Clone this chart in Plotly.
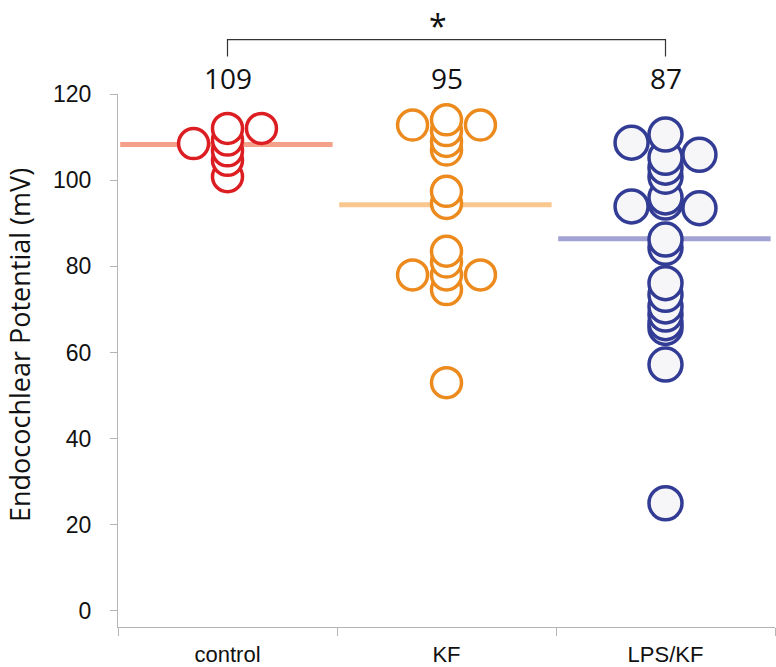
import plotly.graph_objects as go

# ---------------- data ----------------
groups = ["control", "KF", "LPS/KF"]

control_ep = [112.0, 112.0, 108.5, 109.3, 106.8, 104.6, 100.8]
control_side = [0, 1, -1, 0, 0, 0, 0]

kf_ep = [114.0, 112.8, 112.8, 111.5, 109.0, 107.0, 97.4, 94.6, 83.5, 81.0, 78.0, 78.0, 78.0, 74.6, 53.0]
kf_side = [0, -1, 1, 0, 0, 0, 0, 0, 0, 0, -1, 1, 0, 0, 0]

lps_ep = [110.6, 108.7, 105.9, 105.2, 102.9, 100.8, 96.0, 94.8, 93.9, 93.5, 86.2, 84.3,
          76.1, 73.4, 70.7, 68.8, 66.8, 65.7, 57.2, 25.0]
lps_side = [0, -1, 1, 0, 0, 0, 0, 0, -1, 1, 0, 0, 0, 0, 0, 0, 0, 0, 0, 0]

group_means = [108.3, 94.3, 86.4]
mean_labels = ["109", "95", "87"]
significance = "*"
y_title = "Endocochlear Potential (mV)"

y_ticks = [0, 20, 40, 60, 80, 100, 120]

# ---------------- style ----------------
marker_colors = ["#dc1e22", "#ec8a1e", "#323c95"]
fill_colors = ["white", "white", "#f6f6f8"]
line_colors = ["#f5a088", "#fac88e", "#a2a2d5"]
marker_sizes = [30, 30, 33]
side_step = 0.155
Y_MIN, Y_MAX = -3.72, 120
AXIS_COLOR = "#b5b5b5"
LABEL_FONT = "Open Sans"

fig = go.Figure()

# mean lines (behind markers)
for i, m in enumerate(group_means):
    fig.add_trace(go.Scatter(
        x=[i - 0.49, i + 0.48], y=[m, m], mode="lines",
        line=dict(color=line_colors[i], width=5),
        hoverinfo="skip", showlegend=False))

# points
for i, (vals, sides) in enumerate([(control_ep, control_side),
                                   (kf_ep, kf_side),
                                   (lps_ep, lps_side)]):
    pts = sorted(zip(vals, sides), key=lambda p: p[0])
    fig.add_trace(go.Scatter(
        x=[i + s * side_step for _, s in pts],
        y=[v for v, _ in pts],
        mode="markers",
        marker=dict(size=marker_sizes[i], color=fill_colors[i],
                    line=dict(color=marker_colors[i], width=3.5)),
        cliponaxis=False, showlegend=False, name=groups[i]))


def px(xv):
    return (xv + 0.5) / 3.0


def py(yv):
    return (yv - Y_MIN) / (Y_MAX - Y_MIN)


# significance bracket between control and LPS/KF
br_y, br_drop = 132.6, 128.7
fig.add_shape(type="path", xref="paper", yref="paper",
              path=f"M {px(0)} {py(br_drop)} L {px(0)} {py(br_y)} L {px(2)} {py(br_y)} L {px(2)} {py(br_drop)}",
              line=dict(color="#333333", width=1.2))
fig.add_annotation(x=px(0.96), y=py(141.4), xref="paper", yref="paper", text=significance,
                   xanchor="center", yanchor="top",
                   showarrow=False, font=dict(family=LABEL_FONT, size=32, color="#111"))

for i, lab in enumerate(mean_labels):
    fig.add_annotation(x=px(i), y=py(123.8), xref="paper", yref="paper", text=lab,
                       xanchor="center", yanchor="middle",
                       showarrow=False, font=dict(family=LABEL_FONT, size=28, color="#111"))

# y-axis title
fig.add_annotation(x=-0.1507, y=0.529, xref="paper", yref="paper", text=y_title,
                   textangle=-90, xanchor="center", yanchor="middle", showarrow=False,
                   font=dict(family="Open Sans", size=27, color="#111"))

fig.update_xaxes(
    range=[-0.5, 2.5], tickvals=[0, 1, 2], ticktext=groups, ticks="",
    showline=True, linecolor=AXIS_COLOR, linewidth=1, showgrid=False, zeroline=False,
    minor=dict(tickvals=[-0.5, 0.5, 1.5, 2.5], ticks="outside", ticklen=8,
               tickcolor=AXIS_COLOR, tickwidth=1, showgrid=False),
    tickfont=dict(family="Liberation Sans, Arial", size=22, color="#111"),
    ticklabelstandoff=8)

fig.update_yaxes(
    range=[Y_MIN, Y_MAX], tickvals=y_ticks, ticks="outside", ticklen=7,
    tickcolor=AXIS_COLOR, showline=True, linecolor=AXIS_COLOR, linewidth=1,
    showgrid=False, zeroline=False,
    tickfont=dict(family="Liberation Sans, Arial", size=23, color="#111"),
    ticklabelstandoff=14)

fig.update_layout(
    width=776, height=667,
    margin=dict(l=118, r=1, t=94, b=40, autoexpand=False),
    plot_bgcolor="white", paper_bgcolor="white")

fig.write_html("out.html", config={"displayModeBar": False},
               post_script="document.body.style.margin='0';")
